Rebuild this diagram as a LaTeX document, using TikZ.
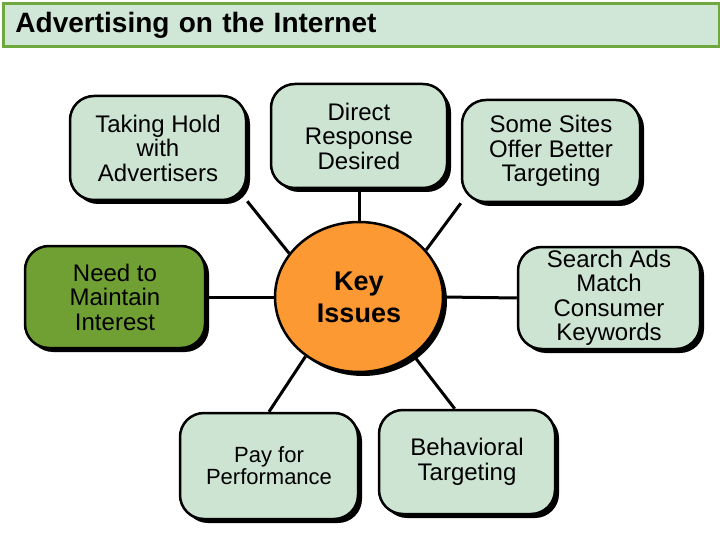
\documentclass[tikz,border=0pt]{standalone}
\usepackage{fontspec}
\setmainfont{Liberation Sans}
\usetikzlibrary{shadows, backgrounds, shapes.geometric}
\definecolor{mint}{RGB}{205,228,211}
\definecolor{leafgreen}{RGB}{112,160,52}
\definecolor{barline}{RGB}{112,168,64}
\definecolor{barfill}{RGB}{208,230,214}
\definecolor{keyorange}{RGB}{253,153,51}
\tikzset{
  hardshadow/.style={drop shadow={shadow xshift=4pt, shadow yshift=-4pt,
                     fill=black, opacity=1}},
  ibox/.style={draw=black, line width=2.5pt, rounded corners=24pt, fill=mint,
               align=center, inner sep=0pt, minimum width=176pt,
               minimum height=104pt, font=\fontsize{24pt}{24.5pt}\selectfont,
               hardshadow},
  keyoval/.style={ellipse, draw=black, line width=2.5pt, fill=keyorange,
                  align=center, inner sep=0pt, minimum width=168pt,
                  minimum height=150pt,
                  font=\bfseries\fontsize{27pt}{32pt}\selectfont, hardshadow},
  titlebar/.style={draw=barline, line width=3pt, fill=barfill, align=left,
                   inner xsep=12pt, inner ysep=0pt, text width=692pt,
                   minimum height=43pt, font=\bfseries\fontsize{28pt}{30pt}\selectfont},
  spoke/.style={line width=3pt, black},
}
\begin{document}
\begin{tikzpicture}[x=1pt, y=-1pt]
\useasboundingbox (0,0) rectangle (720,540);
\node[titlebar, anchor=north west] (title) at (2,2) {Advertising on the Internet};

\node[keyoval] (key) at (359,297) {Key\\Issues};
\node[ibox] (th) at (158,148) {Taking Hold\\with\\Advertisers};
\node[ibox] (dr) at (359,136) {Direct\\Response\\Desired};
\node[ibox, minimum width=178pt, minimum height=102pt] (ss) at (551,151) {Some Sites\\Offer Better\\Targeting};
\node[ibox, fill=leafgreen, minimum width=180pt, minimum height=102pt] (nm) at (115,297) {Need to\\Maintain\\Interest};
\node[ibox, minimum width=182pt, minimum height=102pt] (sa) at (609,298) {Search Ads\\Match\\Consumer\\Keywords};
\node[ibox, minimum width=178pt, minimum height=106pt,
      font=\fontsize{22pt}{22pt}\selectfont] (pp) at (269,466) {Pay for\\Performance};
\node[ibox] (bt) at (467,462) {Behavioral\\Targeting};

% spokes sit under the boxes
\begin{scope}[on background layer]
\draw[spoke] (key.148) -- (th.south east);
\draw[spoke] (key.north) -- (dr.south);
\draw[spoke] (key.35) -- (ss.south west);
\draw[spoke] (key.west) -- (nm.east);
\draw[spoke] (key.east) -- (sa.west);
\draw[spoke] (key.228) -- (pp.north);
\draw[spoke] (key.-47) -- (bt.103);
\end{scope}
\end{tikzpicture}
\end{document}
